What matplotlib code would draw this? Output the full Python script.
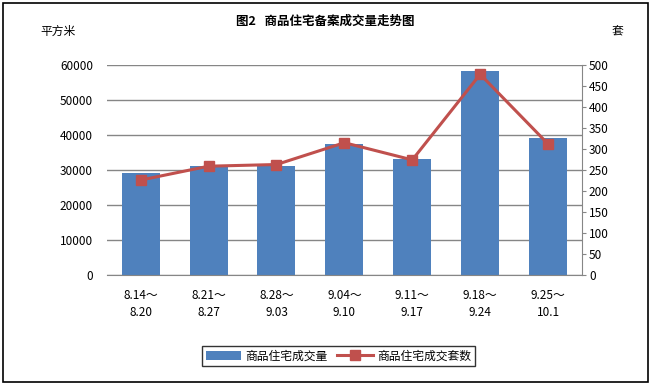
import numpy as np
import matplotlib
matplotlib.use('Agg')
import matplotlib.pyplot as plt
from matplotlib.patches import Rectangle

plt.rcParams['font.family'] = ['Noto Sans CJK SC', 'DejaVu Sans']

# data
weeks = ['8.14～\n8.20', '8.21～\n8.27', '8.28～\n9.03', '9.04～\n9.10',
         '9.11～\n9.17', '9.18～\n9.24', '9.25～\n10.1']
area = [29200, 31200, 31100, 37400, 33100, 58400, 39100]   # 平方米
units = [226, 259, 263, 315, 274, 478, 312]                 # 套

blue = '#4F81BD'
red = '#C0504D'
grey = '#868686'

fig = plt.figure(figsize=(6.51, 3.85), dpi=100)
fig.patches.append(Rectangle((0.005, 0.008), 0.99, 0.984, transform=fig.transFigure,
                             fill=False, edgecolor='black', linewidth=1.2))

ax = fig.add_axes([0.164, 0.286, 0.730, 0.545])
x = np.arange(len(weeks))
bars = ax.bar(x, area, width=0.56, color=blue, zorder=2, label='商品住宅成交量')
ax.set_ylim(0, 60000)
ax.set_yticks(range(0, 60001, 10000))
ax.set_xlim(-0.5, len(weeks) - 0.5)
ax.yaxis.grid(True, color=grey, linewidth=1)
ax.set_axisbelow(True)
for s in ['top', 'left', 'right']:
    ax.spines[s].set_visible(False)
ax.spines['bottom'].set_color(grey)
ax.tick_params(axis='y', length=0, labelsize=8.5, pad=10)
ax.tick_params(axis='x', length=0, labelsize=8.5, pad=10)
ax.set_xticks(x)
ax.set_xticklabels(weeks, linespacing=1.45)

ax2 = ax.twinx()
line, = ax2.plot(x, units, color=red, linewidth=2.2, marker='s', markersize=6.5,
                 zorder=3, label='商品住宅成交套数')
ax2.set_ylim(0, 500)
ax2.set_yticks(range(0, 501, 50))
for s in ['top', 'left', 'bottom']:
    ax2.spines[s].set_visible(False)
ax2.spines['right'].set_color(grey)
ax2.tick_params(axis='y', length=3, color=grey, labelsize=8.5, pad=2)

fig.text(0.5, 0.945, '图2   商品住宅备案成交量走势图', ha='center', va='center',
         fontsize=9, fontweight='bold')
fig.text(0.062, 0.918, '平方米', ha='left', va='center', fontsize=8.5)
fig.text(0.94, 0.918, '套', ha='left', va='center', fontsize=8.5)

leg = fig.legend([bars, line], ['商品住宅成交量', '商品住宅成交套数'],
                 loc='center', bbox_to_anchor=(0.52, 0.075), ncol=2,
                 fontsize=8.5, frameon=True, fancybox=False, edgecolor='black',
                 handlelength=3, columnspacing=0.8, handletextpad=0.4,
                 borderpad=0.3)
leg.get_frame().set_linewidth(1)

fig.savefig('out.png', dpi=100)
